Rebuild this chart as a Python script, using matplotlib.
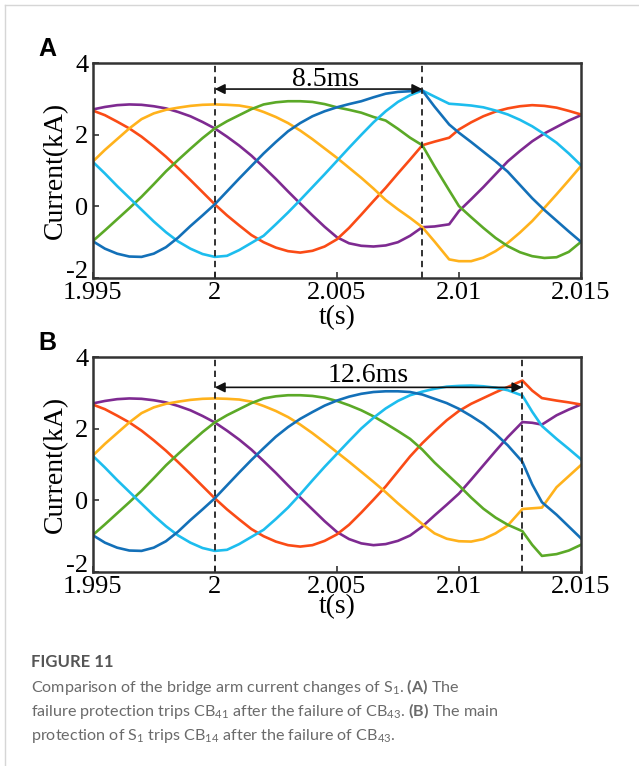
import numpy as np
import matplotlib.pyplot as plt
from matplotlib.lines import Line2D
from matplotlib.transforms import ScaledTranslation

plt.rcParams['font.family'] = 'Liberation Serif'
plt.rcParams['mathtext.fontset'] = 'custom'
plt.rcParams['mathtext.rm'] = 'Lato'
plt.rcParams['mathtext.bf'] = 'Lato:bold'

# sample times, ms after t = 1.995 s
t_ms_a = [0, 0.5, 1, 1.5, 2, 2.5, 3, 3.5, 4, 4.5, 5, 5.5, 6, 6.5, 7, 7.5, 8, 8.5, 9, 9.5,
          10, 10.5, 11, 11.5, 12, 12.5, 13, 13.5, 14, 14.6, 15, 15.5, 16, 16.5, 17, 17.5,
          18, 18.5, 19, 19.5, 20]
t_ms_b = [0, 0.5, 1, 1.5, 2, 2.5, 3, 3.5, 4, 4.5, 5, 5.5, 6, 6.5, 7, 7.5, 8, 8.5, 9, 9.5,
          10, 10.5, 11, 11.5, 12, 12.5, 13, 13.5, 14, 14.5, 15, 15.5, 16, 16.5, 17, 17.6,
          18, 18.4, 19, 19.5, 20]

# arm currents (kA) before the fault, same in both runs (0 .. 6.5 ms)
purple_pre = [2.71, 2.78, 2.83, 2.85, 2.84, 2.80, 2.74, 2.64, 2.52, 2.36, 2.18, 1.95, 1.70, 1.42]
red_pre = [2.68, 2.55, 2.37, 2.18, 1.95, 1.68, 1.39, 1.07, 0.74, 0.40, 0.06, -0.25, -0.53, -0.80]
yellow_pre = [1.25, 1.58, 1.88, 2.18, 2.44, 2.60, 2.70, 2.76, 2.81, 2.84, 2.85, 2.84, 2.82, 2.76]
green_pre = [-0.97, -0.67, -0.36, -0.05, 0.27, 0.62, 0.98, 1.30, 1.61, 1.91, 2.18, 2.38, 2.55, 2.72]
cyan_pre = [1.25, 0.92, 0.57, 0.24, -0.09, -0.42, -0.72, -0.98, -1.18, -1.33, -1.41, -1.38, -1.22, -1.02]
blue_pre = [-0.97, -1.18, -1.32, -1.40, -1.41, -1.32, -1.14, -0.87, -0.55, -0.25, 0.06, 0.42, 0.78, 1.13]

# panel A (7 .. 20 ms)
purple_a = purple_pre + [1.10, 0.77, 0.42, 0.08, -0.25, -0.57, -0.86, -1.03, -1.10, -1.12, -1.09,
                         -1.00, -0.82, -0.58, -0.56, -0.50, -0.13, 0.20, 0.54, 0.90, 1.26, 1.55,
                         1.82, 2.04, 2.22, 2.40, 2.55]
red_a = red_pre + [-1.00, -1.15, -1.25, -1.29, -1.24, -1.12, -0.92, -0.60, -0.23, 0.15, 0.52,
                   0.92, 1.31, 1.71, 1.81, 1.92, 2.15, 2.35, 2.52, 2.65, 2.74, 2.80, 2.83,
                   2.81, 2.76, 2.67, 2.57]
yellow_a = yellow_pre + [2.64, 2.50, 2.33, 2.12, 1.88, 1.62, 1.36, 1.08, 0.80, 0.50, 0.18,
                         -0.08, -0.32, -0.58, -0.98, -1.48, -1.53, -1.53, -1.43, -1.25, -1.02,
                         -0.73, -0.41, -0.04, 0.34, 0.73, 1.13]
green_a = green_pre + [2.85, 2.91, 2.94, 2.94, 2.92, 2.86, 2.77, 2.70, 2.62, 2.50, 2.40, 2.17,
                       1.92, 1.71, 1.12, 0.45, 0.01, -0.30, -0.60, -0.88, -1.11, -1.28, -1.39,
                       -1.44, -1.42, -1.27, -0.99]
cyan_a = cyan_pre + [-0.82, -0.50, -0.17, 0.18, 0.54, 0.90, 1.27, 1.64, 2.00, 2.35, 2.66, 2.92,
                     3.11, 3.24, 3.07, 2.87, 2.85, 2.82, 2.77, 2.68, 2.57, 2.42, 2.24, 2.02,
                     1.78, 1.48, 1.15]
blue_a = blue_pre + [1.48, 1.80, 2.10, 2.33, 2.52, 2.66, 2.77, 2.86, 2.94, 3.05, 3.15, 3.20,
                     3.22, 3.24, 2.79, 2.29, 2.06, 1.80, 1.53, 1.26, 0.97, 0.60, 0.23, -0.10,
                     -0.40, -0.70, -0.99]

# panel B (7 .. 20 ms)
purple_b = purple_pre + [1.10, 0.77, 0.42, 0.08, -0.25, -0.58, -0.88, -1.08, -1.20, -1.25, -1.22,
                         -1.13, -0.98, -0.73, -0.42, -0.12, 0.19, 0.58, 0.98, 1.38, 1.77, 2.19,
                         2.17, 2.12, 2.38, 2.54, 2.68]
red_b = red_pre + [-1.00, -1.15, -1.25, -1.29, -1.25, -1.13, -0.95, -0.68, -0.34, 0.02, 0.39,
                   0.81, 1.23, 1.60, 1.93, 2.24, 2.50, 2.70, 2.86, 3.02, 3.17, 3.35, 3.07,
                   2.86, 2.79, 2.74, 2.68]
yellow_b = yellow_pre + [2.64, 2.50, 2.33, 2.12, 1.88, 1.62, 1.35, 1.08, 0.80, 0.52, 0.23,
                         -0.08, -0.37, -0.66, -0.92, -1.07, -1.14, -1.15, -1.08, -0.92, -0.70,
                         -0.24, -0.22, -0.20, 0.37, 0.68, 0.99]
green_b = green_pre + [2.85, 2.91, 2.94, 2.94, 2.92, 2.87, 2.78, 2.66, 2.52, 2.35, 2.15, 1.94,
                       1.72, 1.42, 1.06, 0.74, 0.42, 0.08, -0.23, -0.48, -0.68, -0.86, -1.24,
                       -1.55, -1.50, -1.40, -1.24]
cyan_b = cyan_pre + [-0.82, -0.52, -0.20, 0.17, 0.56, 0.94, 1.30, 1.66, 2.01, 2.31, 2.57, 2.78,
                     2.94, 3.04, 3.12, 3.18, 3.20, 3.21, 3.19, 3.15, 3.08, 2.93, 2.48, 2.08,
                     1.72, 1.44, 1.15]
blue_b = blue_pre + [1.46, 1.78, 2.05, 2.28, 2.47, 2.65, 2.79, 2.90, 2.98, 3.03, 3.05, 3.05,
                     3.03, 2.96, 2.84, 2.72, 2.56, 2.36, 2.14, 1.86, 1.54, 1.08, 0.45, -0.05,
                     -0.40, -0.73, -1.06]

xticks = [1.995, 2.0, 2.005, 2.01, 2.015]
xtick_labels = ['1.995', '2', '2.005', '2.01', '2.015']
yticks = [-2, 0, 2, 4]
ytick_labels = ['-2', '0', '2', '4']

colors = {'purple': '#7E2A91', 'red': '#FA4B16', 'yellow': '#FFB21C',
          'green': '#5BA927', 'cyan': '#1DBDEE', 'blue': '#1370B8'}

W, H = 639, 766
fig = plt.figure(figsize=(W / 100, H / 100), dpi=100)


def box(l, t, r, b):
    return [l / W, 1 - b / H, (r - l) / W, (b - t) / H]


def draw_panel(ax, t_ms, curves, trip, arrow_y, label, label_x, label_y, xlab_y):
    t = 1.995 + np.array(t_ms) / 1000.0
    for name, vals in curves:
        ax.plot(t, vals, color=colors[name], lw=1.9, solid_joinstyle='round')
    ax.axvline(2.0, color='#222222', ls=(0, (3.5, 2.5)), lw=1.3)
    ax.axvline(trip, color='#222222', ls=(0, (3.5, 2.5)), lw=1.3)
    ax.annotate('', xy=(trip, arrow_y), xytext=(2.0, arrow_y),
                arrowprops=dict(arrowstyle='<|-|>', color='#111111', lw=1.2,
                                mutation_scale=15, shrinkA=0, shrinkB=0))
    ax.text(label_x, label_y, label, ha='center', va='baseline', fontsize=20)
    ax.set_xlim(1.995, 2.015)
    ax.set_ylim(-2, 4)
    ax.set_xticks(xticks)
    ax.set_xticklabels(xtick_labels)
    ax.set_yticks(yticks)
    ax.set_yticklabels(ytick_labels)
    ax.tick_params(direction='in', length=4, width=1.2, labelsize=19, color='#333333')
    ax.tick_params(axis='x', pad=3)
    ax.tick_params(axis='y', pad=3)
    # bottom y label sits a little higher than its tick
    low = ax.get_yticklabels()[0]
    low.set_transform(low.get_transform() + ScaledTranslation(0, 0.08, fig.dpi_scale_trans))
    for s in ax.spines.values():
        s.set_linewidth(1.8)
        s.set_color('#333333')
    ax.set_ylabel('Current(kA)', fontsize=20)
    ax.yaxis.set_label_coords(-0.05, 0.5)
    ax.set_xlabel('t(s)', fontsize=20)
    ax.xaxis.set_label_coords(0.5, xlab_y)


ax_a = fig.add_axes(box(92.7, 63.3, 581, 278))
draw_panel(ax_a, t_ms_a,
           [('purple', purple_a), ('red', red_a), ('yellow', yellow_a),
            ('green', green_a), ('cyan', cyan_a), ('blue', blue_a)],
           2.0085, 3.28, '8.5ms', 2.00452, 3.36, -0.125)

ax_b = fig.add_axes(box(92.7, 357.3, 581, 572))
draw_panel(ax_b, t_ms_b,
           [('purple', purple_b), ('red', red_b), ('yellow', yellow_b),
            ('green', green_b), ('cyan', cyan_b), ('blue', blue_b)],
           2.0126, 3.16, '12.6ms', 2.00628, 3.32, -0.105)

fig.text(38 / W, 1 - 37 / H, 'A', fontfamily='Liberation Sans', fontweight='bold',
         fontsize=18, va='top', ha='left')
fig.text(38 / W, 1 - 331 / H, 'B', fontfamily='Liberation Sans', fontweight='bold',
         fontsize=18, va='top', ha='left')

# caption
fig.text(31 / W, 1 - 667 / H, 'FIGURE 11', fontfamily='Lato', fontweight='bold',
         fontsize=12, color='#555555', va='baseline')
lines = [r'Comparison of the bridge arm current changes of S$_1$. $\mathbf{(A)}$ The',
         r'failure protection trips CB$_{41}$ after the failure of CB$_{43}$. $\mathbf{(B)}$ The main',
         r'protection of S$_1$ trips CB$_{14}$ after the failure of CB$_{43}$.']
for i, txt in enumerate(lines):
    fig.text(31 / W, 1 - (692 + 24 * i) / H, txt, fontfamily='Lato', fontsize=11.6,
             color='#6a6a6a', va='baseline')

# light frame around the figure
fig.add_artist(Line2D([4.5 / W, 4.5 / W], [0, 1 - 4.5 / H], color='#d6d6d6', lw=1))
fig.add_artist(Line2D([4.5 / W, 1], [1 - 4.5 / H, 1 - 4.5 / H], color='#d6d6d6', lw=1))

fig.savefig('out.png', dpi=100)
